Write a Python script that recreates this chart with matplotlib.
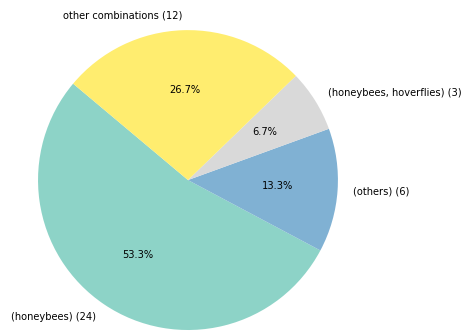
import matplotlib

matplotlib.use("Agg")
import matplotlib.pyplot as plt
import numpy as np

# wedge order follows the original data frame
categories = ["(honeybees)", "(others)", "(honeybees, hoverflies)", "other combinations"]
counts = [24, 6, 3, 12]

labels = [f"{c} ({n})" for c, n in zip(categories, counts)]
colors = plt.cm.Set3(np.linspace(0, 1, len(counts)))

fig = plt.figure(figsize=(4.63, 3.31), dpi=100)
ax = fig.add_axes([0.082, 0.003, 0.648, 0.906])
ax.pie(
    counts,
    labels=labels,
    colors=colors,
    autopct="%1.1f%%",
    startangle=140,
    textprops={"fontsize": 7.1},
)
ax.set_xlim(-1, 1)
ax.set_ylim(-1, 1)
ax.set_aspect("equal")

fig.savefig("out.png", dpi=100)
